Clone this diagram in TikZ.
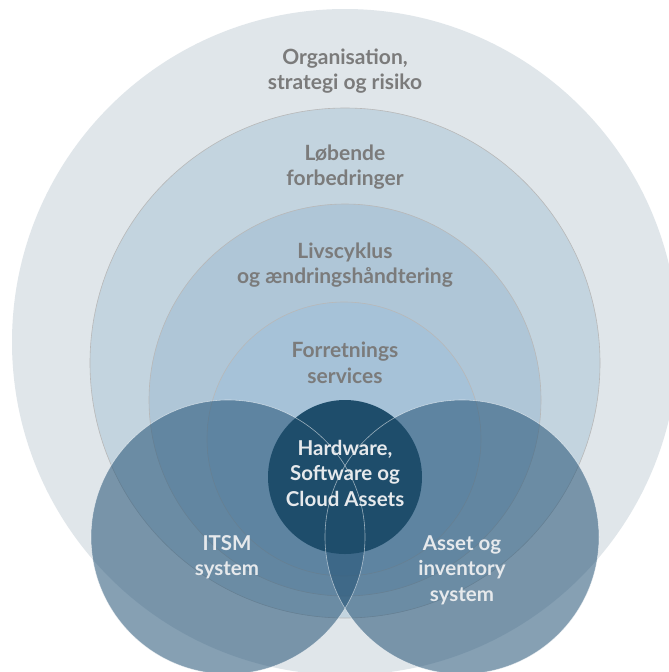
\documentclass[tikz,border=0pt]{standalone}
\usepackage{fontspec}
\setmainfont{Lato}
\usepackage{tikz}
\definecolor{ringA}{HTML}{E0E6EA}
\definecolor{ringB}{HTML}{C3D4DF}
\definecolor{ringC}{HTML}{AFC6D7}
\definecolor{ringD}{HTML}{A6C2D8}
\definecolor{sysblue}{HTML}{235275}
\definecolor{coreblue}{HTML}{1E4D6B}
\definecolor{lblgray}{HTML}{7B7B7B}
\definecolor{lblwhite}{HTML}{E6E9EC}
\tikzset{
  ringline/.style={draw=black!28,line width=0.6pt},
  sysring/.style={fill=sysblue,fill opacity=0.55},
  graylbl/.style={text=lblgray,font=\bfseries\fontsize{21}{25.5}\selectfont,align=center},
  whitelbl/.style={text=lblwhite,font=\bfseries\fontsize{20.5}{25.5}\selectfont,align=center}
}

\begin{document}
\begin{tikzpicture}[line cap=round,line join=round,x=1pt,y=-1pt]
\useasboundingbox (0,0) rectangle (669,672);
\clip (0,0) rectangle (669,672);
\fill[white] (0,0) rectangle (669,672);
\fill[ringA] (345,342) circle (333);
\draw[ringline,fill=ringB] (345,363) circle (255);
\draw[ringline,fill=ringC] (345,400) circle (196);
\draw[ringline,fill=ringD] (344,439) circle (137);
\fill[sysring] (228,537) circle (137);
\fill[sysring] (462,537) circle (137);
\fill[coreblue] (345,477) circle (77);
\draw[white,opacity=0.55,line width=0.6pt] (228,537) circle (137);
\draw[white,opacity=0.55,line width=0.6pt] (462,537) circle (137);
\node[graylbl] (org) at (345,71) {Organisation,\\strategi og risiko};
\node[graylbl] (lob) at (345,167) {Løbende\\forbedringer};
\node[graylbl] (liv) at (345,265) {Livscyklus\\og ændringshåndtering};
\node[graylbl] (forr) at (345,363) {Forretnings\\services};
\node[whitelbl] (hw) at (345,473) {Hardware,\\Software og\\Cloud Assets};
\node[whitelbl] (itsm) at (227,557) {ITSM\\system};
\node[whitelbl] (asset) at (462,570) {Asset og\\inventory\\system};
\end{tikzpicture}
\end{document}
